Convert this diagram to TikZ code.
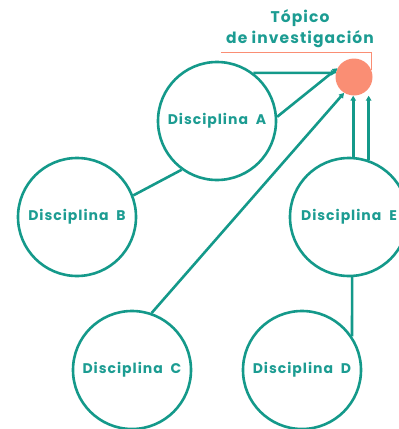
\documentclass[tikz,border=0pt]{standalone}
\usepackage{fontspec}
\setmainfont{Poppins}[LetterSpace=7]
\usetikzlibrary{arrows.meta}
\definecolor{teal1}{HTML}{14998A}
\definecolor{tealtext}{HTML}{1C9C92}
\definecolor{salmon}{HTML}{FA8E74}

\begin{document}
\begin{tikzpicture}[x=1pt,y=-1pt,
	disc/.style={circle,draw=teal1,line width=2.6pt,minimum size=118pt,inner sep=0pt,
		text=tealtext,font=\bfseries\fontsize{14}{15}\selectfont},
	link/.style={draw=teal1,line width=2.6pt},
	arr/.style={link,-{Triangle[length=5pt,width=5.5pt]}}]
		\useasboundingbox (0,0) rectangle (399,429);
		
		\node(A) at (217,121)[disc]{Disciplina\ \ A};
		\node(B) at (77,217)[disc]{Disciplina\ \ B};
		\node(C) at (132,370)[disc]{Disciplina\ \ C};
		\node(D) at (302,370)[disc]{Disciplina\ \ D};
		\node(E) at (349,217)[disc]{Disciplina\ \ E};
		\node(title) at (300,29)[align=center,text=tealtext,font=\bfseries\fontsize{15.5}{21}\selectfont]{Tópico\\de investigación};
		\coordinate(line) at (221,52);
		\draw[salmon,line width=1pt] (line) -| (371,70);
		\node(T) at (354,77)[circle,fill=salmon,minimum size=37pt,inner sep=0pt]{};
		\draw[link] (B.21) -- (A.234);
		\draw[link] (E.273) -- (D.34);
		\draw[arr] (A.53) -- (T.167);
		\draw[arr] (A.4) -- (T.152);
		\draw[arr] (C.71) -- (T.238);
		\draw[arr] (E.86.6) -- (E.86.6 |- T.south);
		\draw[arr] (E.71.7) -- (E.71.7 |- T.south);
		
	\end{tikzpicture}
\end{document}
